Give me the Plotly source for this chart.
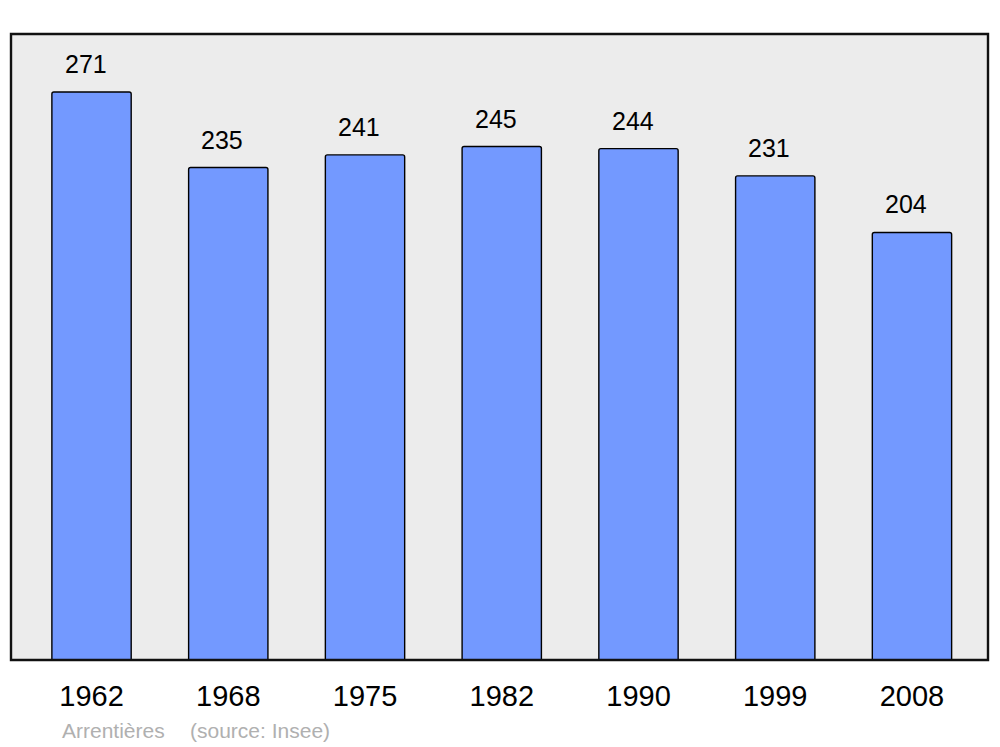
import plotly.graph_objects as go

years = ["1962", "1968", "1975", "1982", "1990", "1999", "2008"]
population = [271, 235, 241, 245, 244, 231, 204]
place = "Arrentières"
source = "(source: Insee)"

W, H = 1000, 747
L, R, T, B = 11, 12, 34, 87

fig = go.Figure()
fig.add_trace(go.Bar(
    x=list(range(len(years))), y=population, width=0.58,
    marker=dict(color="#7399ff", line=dict(color="#000000", width=1.4), cornerradius=2),
    hoverinfo="skip",
))

for i, v in enumerate(population):
    fig.add_annotation(x=i, y=v, text=str(v), showarrow=False, yanchor="middle",
                       yshift=28, xshift=-6,
                       font=dict(family="Liberation Sans, Arial", size=25, color="#000"))

fig.add_shape(type="rect", xref="paper", yref="paper", x0=0, x1=1, y0=0, y1=1,
              line=dict(color="#111111", width=2.4), layer="above")

pw = W - L - R
ph = H - T - B
def px2paper_x(px):
    return (px - L) / pw
def px2paper_y(py):
    return (H - B - py) / ph

fig.add_annotation(xref="paper", yref="paper", x=px2paper_x(60), y=px2paper_y(730),
                   xanchor="left", yanchor="middle", text=place, showarrow=False,
                   font=dict(family="Liberation Sans, Arial", size=21, color="#b0b0b0"))
fig.add_annotation(xref="paper", yref="paper", x=px2paper_x(188), y=px2paper_y(730),
                   xanchor="left", yanchor="middle", text=source, showarrow=False,
                   font=dict(family="Liberation Sans, Arial", size=21, color="#b0b0b0"))

fig.update_layout(
    width=W, height=H,
    margin=dict(l=L, r=R, t=T, b=B, pad=0),
    paper_bgcolor="#ffffff", plot_bgcolor="#ececec",
    showlegend=False,
    xaxis=dict(range=[-0.589, 6.556], tickmode="array", tickvals=list(range(len(years))),
               ticktext=years, showgrid=False, zeroline=False, showline=False, ticks="",
               tickfont=dict(family="Liberation Sans, Arial", size=29, color="#000"),
               ticklabelstandoff=16, fixedrange=True),
    yaxis=dict(range=[0, 298.7], showgrid=False, zeroline=False, showline=False,
               showticklabels=False, ticks="", fixedrange=True),
)

fig.write_html("out.html", config={"displayModeBar": False},
               post_script="document.body.style.margin='0';document.body.style.overflow='hidden';")
